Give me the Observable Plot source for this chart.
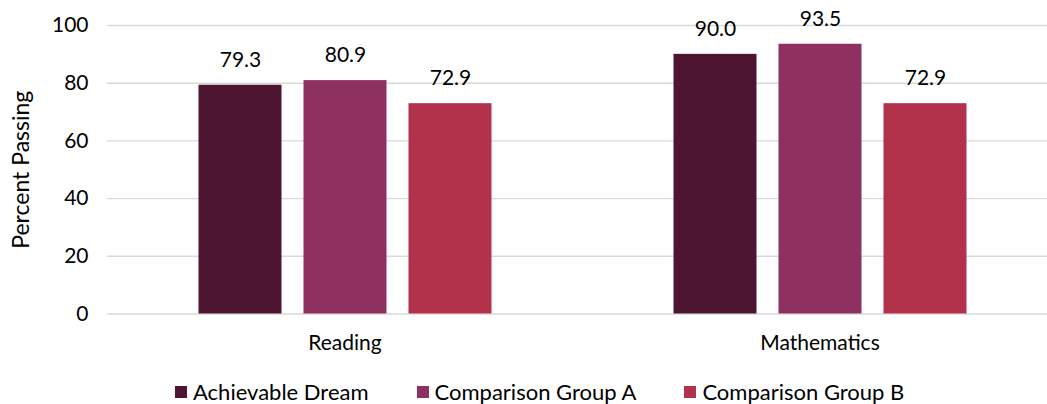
<!DOCTYPE html>
<html>
<head>
<meta charset="utf-8">
<script src="https://cdn.jsdelivr.net/npm/d3@7"></script>
<script src="https://cdn.jsdelivr.net/npm/@observablehq/plot@0.6"></script>
<style>
  html, body { margin: 0; padding: 0; background: #fff; overflow: hidden; }
  body { font-family: Lato, "Open Sans", sans-serif; width: 1047px; height: 404px; position: relative; }
  #legend {
    position: absolute; left: 175px; top: 380.5px;
    display: flex; gap: 48px; font-size: 22px; line-height: 22px; color: #000;
  }
  #legend .item { display: flex; align-items: center; white-space: nowrap; }
  #legend .swatch { width: 12px; height: 12px; margin-right: 6px; flex: none; }
</style>
</head>
<body>
<div id="chart"></div>
<div id="legend"></div>
<script>
// Percent of students passing, by subject and group
const subjects = ["Reading", "Mathematics"];
const groups = ["Achievable Dream", "Comparison Group A", "Comparison Group B"];
const achievableDream = [79.3, 90.0];
const comparisonGroupA = [80.9, 93.5];
const comparisonGroupB = [72.9, 72.9];
const groupColors = ["#4e1533", "#8e3161", "#b2324c"];
const yTicks = [0, 20, 40, 60, 80, 100];
const yLabel = "Percent Passing";

const seriesValues = [achievableDream, comparisonGroupA, comparisonGroupB];
const rows = subjects.flatMap((subject, i) =>
  groups.map((group, g) => ({ subject, group, value: seriesValues[g][i] }))
);

const chart = Plot.plot({
  width: 1047,
  height: 372,
  marginLeft: 106.5,
  marginRight: 0,
  marginTop: 25,
  marginBottom: 58.5,
  style: { fontFamily: "Lato, 'Open Sans', sans-serif", fontSize: "21px", color: "#000", background: "#fff" },
  fx: { domain: subjects, range: [106.5, 1056.5], padding: 0, label: null, tickSize: 0, tickPadding: 21 },
  x: { domain: groups, range: [197, 491], paddingInner: 0.21, paddingOuter: 0, axis: null },
  y: {
    domain: [0, 100], range: [313.5, 25], ticks: yTicks, tickSize: 0, tickPadding: 19,
    label: yLabel, labelArrow: "none", labelAnchor: "center", labelOffset: 95
  },
  color: { domain: groups, range: groupColors },
  marks: [
    Plot.ruleY(yTicks, { stroke: "#d9d9d9", strokeWidth: 1.4 }),
    Plot.barY(rows, { fx: "subject", x: "group", y: "value", fill: "group" }),
    Plot.text(rows, {
      fx: "subject", x: "group", y: "value",
      text: d => d.value.toFixed(1), dy: -25, lineAnchor: "middle", fontSize: 21, fill: "#000"
    })
  ]
});
// The axis title is set a little larger than the tick labels
chart.querySelectorAll("text").forEach(t => {
  if (t.textContent === yLabel) t.style.fontSize = "23px";
});
document.getElementById("chart").append(chart);

// Legend below the chart
const legend = document.getElementById("legend");
groups.forEach((g, i) => {
  const item = document.createElement("div");
  item.className = "item";
  const sw = document.createElement("span");
  sw.className = "swatch";
  sw.style.background = groupColors[i];
  const label = document.createElement("span");
  label.textContent = g;
  item.append(sw, label);
  legend.append(item);
});
</script>
</body>
</html>
